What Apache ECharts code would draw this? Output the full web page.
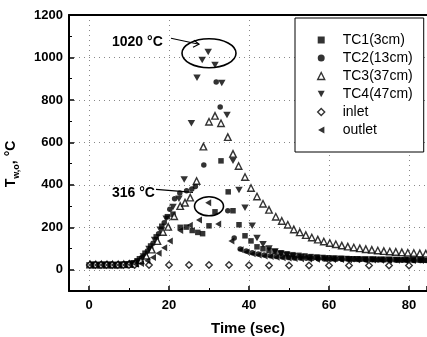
<!DOCTYPE html>
<html><head><meta charset="utf-8">
<script src="https://cdn.jsdelivr.net/npm/echarts@6/dist/echarts.min.js"></script>
<style>html,body{margin:0;padding:0;background:#fff}#c{width:427px;height:337px}</style>
</head><body><div id="c"></div><script>
// ---- data (time in s, temperature in °C) ----
const tc1Time = [0,1.4,2.8,4.2,5.6,7,8.4,9.8,11.2,12.6,14,15.4,16.8,18.2,19.6,21,22.8,24.3,25.8,27.2,28.4,30,31.5,33,34.8,36,37.5,39,40.5,42,43.5,45,46.5,48,49.5,51,52.5,54,55.5,57,58.5,60,61.5,63,64.5,66,67.5,69,70.5,72,73.5,75,76.5,78,79.5,81,82.5,84];
const tc1Temp = [23,23,22,23,23,23,24,26,32,52,78,112,155,205,250,262,200,201,185,176,170,207,273,513,367,278,212,160,136,108,99,92,86,80,75,71,68,65,62,60,58,56,55,54,53,52,51,50,50,49,49,48,48,47,47,46,46,45];
const tc2Time = [0.6,2,3.4,4.8,6.2,7.6,9,10.4,11.8,13.2,14.6,16,17.4,18.8,20.2,21.4,22.7,24.4,25.7,26.6,28.7,31.8,32.8,34.7,36.3,37.8,39.3,40.8,42.3,43.8,45.3,46.8,48.3,49.8,51.3,52.8,54.3,55.8,57.3,58.8,60.3,61.8,63.3,64.8,66.3,67.8,69.3,70.8,72.3,73.8,75.3,76.8,78.3,79.8,81.3,82.8,84.3];
const tc2Temp = [24,24,25,24,24,25,25,28,38,58,88,125,170,222,285,335,362,372,381,392,494,885,767,278,150,98,88,80,74,70,66,63,60,58,56,55,54,53,52,51,50,50,49,49,48,48,47,47,46,46,46,45,45,45,44,44,44];
const tc3Time = [0.3,1.7,3.1,4.5,5.9,7.3,8.7,10.1,11.5,12.9,14.3,15.7,17.1,18.5,19.8,21.3,22.8,24,25.3,26.9,28.6,30,31.5,33,34.7,36,37.4,39,40.5,42,43.5,45,46.7,48.2,49.7,51.2,52.7,54.2,55.7,57.2,58.7,60.2,61.7,63.2,64.7,66.2,67.7,69.2,70.7,72.2,73.7,75.2,76.7,78.2,79.7,81.2,82.7,84.2];
const tc3Temp = [25,25,24,25,25,25,26,27,32,45,66,95,135,178,202,252,300,316,340,418,580,697,725,690,625,546,489,437,385,345,311,282,250,230,212,190,176,163,152,142,133,126,120,114,109,105,101,97,94,91,88,86,84,82,80,79,77,76];
const tc4Time = [0.9,2.3,3.7,5.1,6.5,7.9,9.3,10.7,12.2,13.6,15,16.4,17.8,19.3,21,22.5,23.8,25.6,27,28.3,29.8,31.5,33.2,34.5,36,37.5,39,40.8,42,43.5,45,46.5,48,49.5,51,53,55,57,59,61,63,65,67,69,71,73,75,77,79,81,83];
const tc4Temp = [25,24,25,25,24,25,26,29,40,62,98,140,188,240,296,335,425,690,904,988,1026,965,880,729,513,376,292,207,150,120,100,86,76,69,64,60,57,55,53,52,51,50,49,48,48,47,47,46,46,45,45];
const inletTime = [0.2,1.6,3,4.4,5.8,7.2,8.6,10,11.4,15,20,25,30,35,40,45,50,55,60,65,70,75,80];
const inletTemp = [22,22,22,22,22,22,22,23,23,22,23,23,22,22,21,20,20,20,20,20,20,20,20];
const outletTime = [0.5,1.9,3.3,4.7,6.1,7.5,8.9,10.3,11.7,13,14.6,16,17.4,18.8,20.2,22.8,25.2,27.5,29.8,32.3,35.6,37.9,39.4,40.9,42.4,43.9,45.4,46.9,48.4,49.9,51.4,53,55,57,59,61,63,65,67,69,71,73,75,77,79,81,83];
const outletTemp = [22,22,23,22,22,23,23,24,26,30,42,58,78,104,135,185,210,235,316,216,136,94,84,76,70,65,62,59,57,55,53,52,51,50,49,48,48,47,47,46,46,45,45,45,44,44,44];
const seriesNames = ['TC1(3cm)','TC2(13cm)','TC3(37cm)','TC4(47cm)','inlet','outlet'];
// annotations: [time, temp] of ellipse centres and label text
const peakNote = {label:'1020 °C', at:[30,1020]};
const outletNote = {label:'316 °C', at:[30,299]};

const F = '"Liberation Sans", Arial, Helvetica, sans-serif';
const chart = echarts.init(document.getElementById('c'), null, {renderer:'canvas'});
function pairs(t, v){ return t.map((x,i)=>[x, v[i]]); }
const downTri = 'path://M0,0L10,0L5,9Z';
const leftTri = 'path://M9,0L9,10L0,5Z';
const black = {color:'#000'};
const hollow = {color:'#fff', borderColor:'#000', borderWidth:1.4};
const defs = [
  [tc1Time, tc1Temp, 'rect', 5.5, black],
  [tc2Time, tc2Temp, 'circle', 5.5, black],
  [tc3Time, tc3Temp, 'triangle', 6.5, hollow],
  [tc4Time, tc4Temp, downTri, [7.5,6.5], black],
  [inletTime, inletTemp, 'diamond', 6.5, hollow],
  [outletTime, outletTemp, leftTri, [6,7], black]
];
const series = defs.map((d,i)=>({
  name: seriesNames[i], type:'scatter', data: pairs(d[0], d[1]),
  symbol: d[2], symbolSize: d[3], itemStyle: d[4], z: 3 + i, silent:true
}));
const tickFont = {color:'#000', fontFamily:F, fontSize:13, fontWeight:'bold'};
chart.setOption({
  animation:false,
  backgroundColor:'#fff',
  grid:{left:69, right:0, top:15, bottom:46, containLabel:false, outerBoundsMode:'none'},
  legend:{
    orient:'vertical', left:295, top:18,
    padding:[15,11,15,22], itemGap:4, itemWidth:7, itemHeight:7,
    backgroundColor:'#fff', borderColor:'#000', borderWidth:1,
    textStyle:{color:'#000', fontFamily:F, fontSize:14, padding:[0,0,0,13]},
    data: seriesNames.map((n,i)=>({name:n, icon: defs[i][2], itemStyle: defs[i][4]}))
  },
  xAxis:[{
    type:'value', min:-5, max:84.5, splitNumber:5, position:'bottom',
    axisLine:{show:true, onZero:false, lineStyle:{color:'#000', width:2}},
    axisTick:{show:true, inside:true, length:5, lineStyle:{color:'#000', width:1.5}},
    minorTick:{show:true, splitNumber:2, length:3, lineStyle:{color:'#000', width:1}},
    axisLabel:{...tickFont, showMinLabel:false, showMaxLabel:false, margin:8, formatter:v=>String(v)},
    splitLine:{show:true, showMaxLine:false, lineStyle:{color:'#888', width:1, type:[1,4]}},
    name:'Time (sec)', nameLocation:'middle', nameGap:30,
    nameTextStyle:{color:'#000', fontFamily:F, fontSize:15, fontWeight:'bold'}
  },{
    type:'value', min:-5, max:84.5, position:'top',
    axisLine:{show:true, onZero:false, lineStyle:{color:'#000', width:2}},
    axisTick:{show:false}, axisLabel:{show:false}, splitLine:{show:false}
  }],
  yAxis:{
    type:'value', min:-100, max:1200, splitNumber:6,
    axisLine:{show:true, onZero:false, lineStyle:{color:'#000', width:2}},
    axisTick:{show:true, inside:true, length:5, lineStyle:{color:'#000', width:1.5}},
    minorTick:{show:true, splitNumber:2, length:3, lineStyle:{color:'#000', width:1}},
    axisLabel:{...tickFont, showMinLabel:false, margin:6, formatter:v=>String(v)},
    splitLine:{show:true, showMinLine:false, lineStyle:{color:'#888', width:1, type:[1,4]}}
  },
  series: series
});

// annotations placed through the grid's coordinate conversion
const p1 = chart.convertToPixel({gridIndex:0}, peakNote.at);
const p2 = chart.convertToPixel({gridIndex:0}, outletNote.at);
const noteFont = {fontFamily:F, fontSize:14, fontWeight:'bold', fill:'#000'};
chart.setOption({graphic:[
  {type:'ellipse', shape:{cx:p1[0], cy:p1[1], rx:27, ry:14.5}, style:{fill:'none', stroke:'#000', lineWidth:1.6}, z:10},
  {type:'text', x:112, y:p1[1]-11, style:{text:peakNote.label, ...noteFont, align:'left', verticalAlign:'middle'}, z:10},
  {type:'line', shape:{x1:171, y1:p1[1]-15, x2:p1[0]-10, y2:p1[1]-9}, style:{stroke:'#000', lineWidth:1.2}, z:10},
  {type:'polyline', shape:{points:[[p1[0]-15,p1[1]-13],[p1[0]-10,p1[1]-9],[p1[0]-16,p1[1]-6]]}, style:{stroke:'#000', lineWidth:1.2, fill:'none'}, z:10},
  {type:'ellipse', shape:{cx:p2[0], cy:p2[1], rx:14.5, ry:9.5}, style:{fill:'none', stroke:'#000', lineWidth:1.6}, z:10},
  {type:'text', x:112, y:p2[1]-13, style:{text:outletNote.label, ...noteFont, align:'left', verticalAlign:'middle'}, z:10},
  {type:'line', shape:{x1:156, y1:p2[1]-17, x2:p2[0]-16, y2:p2[1]-14}, style:{stroke:'#000', lineWidth:1.2}, z:10},
  {type:'text', x:11, y:164, rotation:Math.PI/2,
   style:{text:'{a|T}{b|w,o}{a|, °C}', align:'center', verticalAlign:'middle',
     rich:{a:{fontFamily:F, fontSize:14, fontWeight:'bold', fill:'#000', lineHeight:20, verticalAlign:'middle'},
           b:{fontFamily:F, fontSize:9, fontWeight:'bold', fill:'#000', lineHeight:20, verticalAlign:'bottom'}}}, z:10}
]});
</script></body></html>
